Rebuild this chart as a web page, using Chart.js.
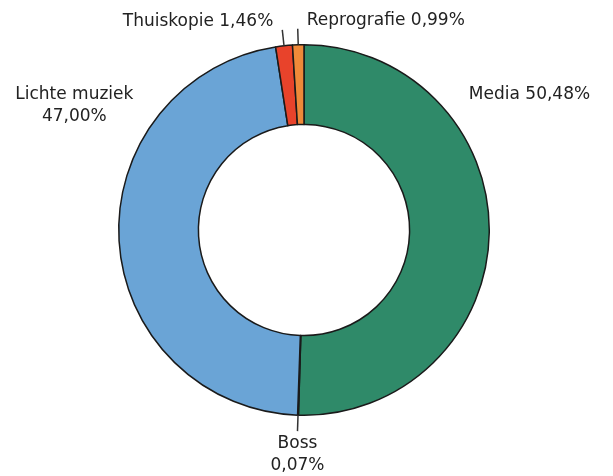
<!DOCTYPE html>
<html>
<head>
<meta charset="utf-8">
<script src="https://cdn.jsdelivr.net/npm/chart.js@4/dist/chart.umd.min.js"></script>
<style>
  html, body { margin: 0; padding: 0; background: #fff; }
  #wrap { width: 613px; height: 476px; }
</style>
</head>
<body>
<div id="wrap"><canvas id="pieChart" width="613" height="476"></canvas></div>
<script>
// shares (percent), clockwise from 12 o'clock
const categories = ["Media", "Boss", "Lichte muziek", "Thuiskopie", "Reprografie"];
const shares = [50.48, 0.07, 47.00, 1.46, 0.99];
const shareLabels = ["50,48%", "0,07%", "47,00%", "1,46%", "0,99%"];
const sliceColors = ["#2f8a69", "#b4582c", "#6aa4d6", "#e8432b", "#ef8a39"];

// where each label goes (style only)
const labelStyle = [
  { leader: false, dx: 0.89, dy: -0.73, align: "left", lines: 1 },
  { leader: true, ox: 0, oy: 12, align: "center", lines: 2 },
  { leader: false, dx: -1.24, dy: -0.73, align: "center", lines: 2 },
  { leader: true, ox: -9, oy: -8, align: "right", lines: 1 },
  { leader: true, ox: 9, oy: -8, align: "left", lines: 1 }
];

const labelPlugin = {
  id: "sliceLabels",
  afterDatasetsDraw(chart) {
    const ctx = chart.ctx;
    const meta = chart.getDatasetMeta(0);
    ctx.save();
    ctx.font = "17px 'DejaVu Sans'";
    ctx.fillStyle = "#222";
    ctx.strokeStyle = "#333";
    ctx.lineWidth = 1.5;
    ctx.textBaseline = "middle";
    meta.data.forEach((arc, i) => {
      const p = arc.getProps(["x", "y", "startAngle", "endAngle", "outerRadius"], true);
      const st = labelStyle[i];
      const txt = st.lines === 1
        ? [categories[i] + " " + shareLabels[i]]
        : [categories[i], shareLabels[i]];
      let tx, ty;
      if (st.leader) {
        const mid = (p.startAngle + p.endAngle) / 2;
        const x0 = p.x + Math.cos(mid) * p.outerRadius;
        const y0 = p.y + Math.sin(mid) * p.outerRadius;
        const x1 = p.x + Math.cos(mid) * (p.outerRadius + 16);
        const y1 = p.y + Math.sin(mid) * (p.outerRadius + 16);
        ctx.beginPath();
        ctx.moveTo(x0, y0);
        ctx.lineTo(x1, y1);
        ctx.stroke();
        tx = x1 + st.ox;
        ty = y1 + st.oy;
      } else {
        tx = p.x + st.dx * p.outerRadius;
        ty = p.y + st.dy * p.outerRadius;
      }
      ctx.textAlign = st.align;
      txt.forEach((t, k) => ctx.fillText(t, tx, ty + k * 22));
    });
    ctx.restore();
  }
};

new Chart(document.getElementById("pieChart").getContext("2d"), {
  type: "doughnut",
  data: {
    labels: categories,
    datasets: [{
      data: shares,
      backgroundColor: sliceColors,
      borderColor: "#1a1a1a",
      borderWidth: 1.5,
      borderJoinStyle: "round"
    }]
  },
  options: {
    responsive: false,
    animation: false,
    cutout: "57%",
    layout: { padding: { top: 44, bottom: 60, left: 0, right: 5 } },
    plugins: {
      legend: { display: false },
      tooltip: { enabled: false }
    }
  },
  plugins: [labelPlugin]
});
</script>
</body>
</html>
